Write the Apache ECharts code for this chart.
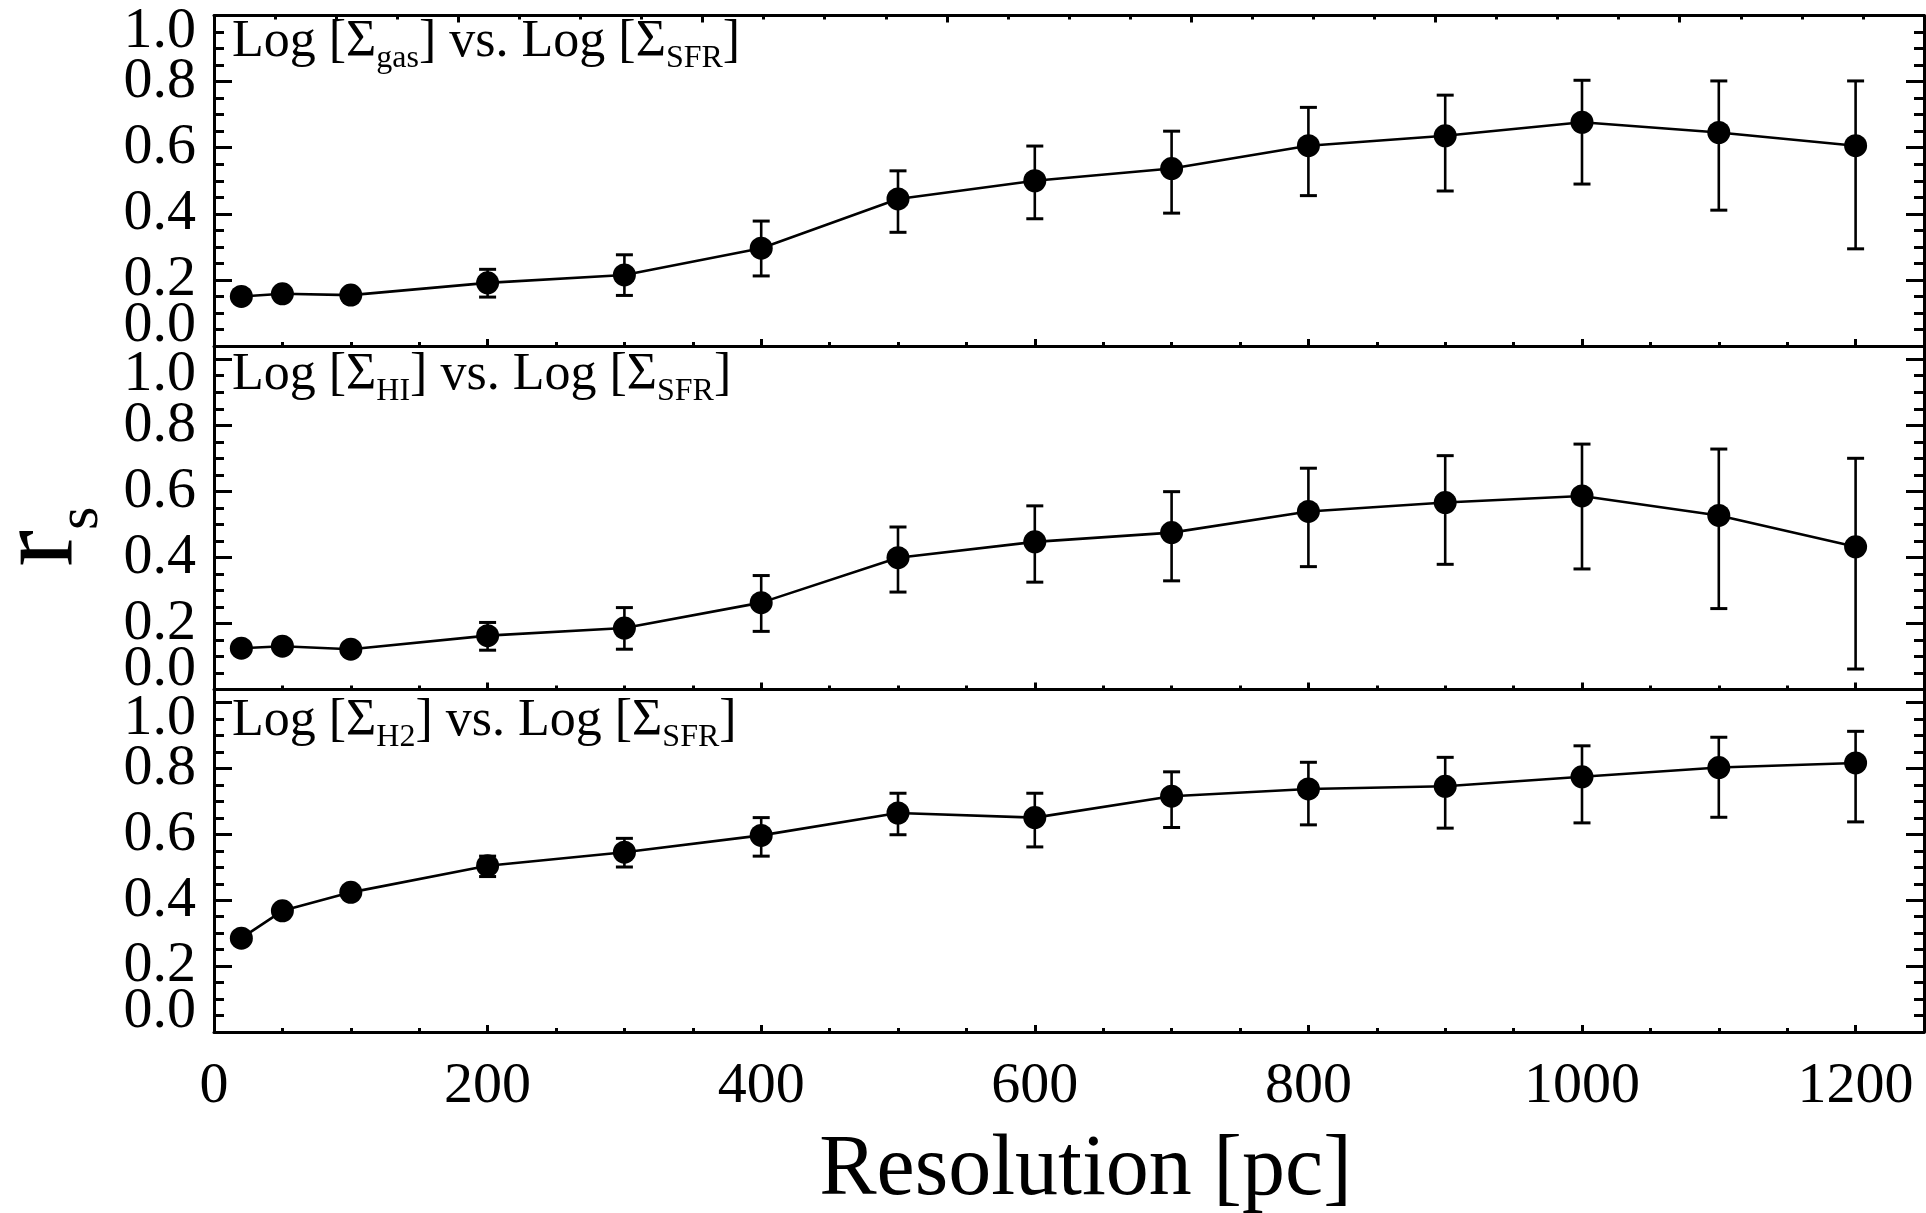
<!DOCTYPE html>
<html>
<head>
<meta charset="utf-8">
<script src="https://cdn.jsdelivr.net/npm/echarts@6/dist/echarts.min.js"></script>
<style>
  html, body { margin: 0; padding: 0; background: #ffffff; }
  #chart { width: 1926px; height: 1213px; }
</style>
</head>
<body>
<div id="chart"></div>
<script>
// Spatial resolution of the maps, in parsec
const resolution = [20, 50, 100, 200, 300, 400, 500, 600, 700, 800, 900, 1000, 1100, 1200];

// Spearman rank coefficient r_s and its error range: total gas vs. SFR
const rsGas   = [0.150, 0.158, 0.154, 0.191, 0.215, 0.296, 0.445, 0.500, 0.537, 0.606, 0.636, 0.677, 0.646, 0.606];
const gasLow  = [null, null, null, 0.148, 0.153, 0.212, 0.344, 0.385, 0.402, 0.455, 0.469, 0.490, 0.411, 0.294];
const gasHigh = [null, null, null, 0.232, 0.276, 0.378, 0.530, 0.605, 0.650, 0.722, 0.759, 0.804, 0.802, 0.802];

// atomic gas vs. SFR
const rsHI    = [0.125, 0.131, 0.122, 0.163, 0.186, 0.263, 0.399, 0.447, 0.475, 0.539, 0.566, 0.586, 0.527, 0.432];
const hiLow   = [null, null, null, 0.119, 0.122, 0.176, 0.295, 0.325, 0.329, 0.372, 0.379, 0.365, 0.245, 0.062];
const hiHigh  = [null, null, null, 0.203, 0.248, 0.345, 0.492, 0.556, 0.599, 0.670, 0.708, 0.743, 0.728, 0.700];

// molecular gas vs. SFR
const rsH2    = [0.285, 0.368, 0.424, 0.505, 0.546, 0.597, 0.665, 0.651, 0.716, 0.738, 0.746, 0.775, 0.803, 0.817];
const h2Low   = [null, null, null, 0.472, 0.501, 0.534, 0.599, 0.562, 0.621, 0.629, 0.619, 0.635, 0.652, 0.638];
const h2High  = [null, null, null, 0.534, 0.588, 0.651, 0.725, 0.725, 0.790, 0.819, 0.834, 0.869, 0.895, 0.913];

// Panel subscripts (gas component) and the shared SFR subscript
const gasComponents = ['gas', 'HI', 'H2'];
const sfrSubscript = 'SFR';

// Axis ranges and tick steps
const xMax = 1250;          // resolution axis
const xTopMax = 1400;       // upper frame axis of the first panel
const xMajorStep = 200;
const xMinorStep = 50;
const yMaxima = [1.0, 1.04, 1.04];
const yMajorStep = 0.2;
const yMinorStep = 0.05;
const yTickLabels = ['0.0', '0.2', '0.4', '0.6', '0.8', '1.0'];

const xTitle = 'Resolution [pc]';

// ---------------------------------------------------------------------------
const FONT = '"Liberation Serif", "Times New Roman", Times, serif';
const INK = '#000000';

const layout = [
  { top: 15.5,  height: 330.5, titleTop: 16.5 },
  { top: 346,   height: 343.5, titleTop: 349.8 },
  { top: 689.5, height: 342.5, titleTop: 695.8 }
];
const seriesSets = [
  { rs: rsGas, lo: gasLow, hi: gasHigh },
  { rs: rsHI,  lo: hiLow,  hi: hiHigh },
  { rs: rsH2,  lo: h2Low,  hi: h2High }
];

function tickStyle(len, show) {
  return { show: show, inside: true, length: len, lineStyle: { color: INK, width: 3 } };
}
function lineStyle(show) {
  return { show: show, onZero: false, lineStyle: { color: INK, width: 3 } };
}

function xLabelFormatter(v) {
  return (Math.abs(v % xMajorStep) < 1e-6 && v <= 1200) ? String(v) : '';
}
function majorIndex(v) {
  const k = Math.round(v / yMajorStep);
  if (Math.abs(v - k * yMajorStep) > 1e-6 || k < 0 || k >= yTickLabels.length) return -1;
  return k;
}
// inner labels of the r_s axis
function yInnerLabel(v) {
  const k = majorIndex(v);
  return (k > 0 && k < yTickLabels.length - 1) ? yTickLabels[k] : '';
}
// end labels are pulled inside the frame so stacked panels do not collide
function yEndLabel(v) {
  const k = majorIndex(v);
  if (k === 0) return '{lo|' + yTickLabels[0] + '}';
  if (k === yTickLabels.length - 1) return '{hi|' + yTickLabels[k] + '}';
  return '';
}

const labelFont = { fontSize: 58, fontFamily: FONT, fontWeight: 'normal', color: INK };

function renderErrorBar(params, api) {
  const x = api.value(0);
  const top = api.coord([x, api.value(2)]);
  const bot = api.coord([x, api.value(1)]);
  const half = 8.5;
  const stem = { stroke: INK, lineWidth: 2.6 };
  const cap = { stroke: INK, lineWidth: 3 };
  return {
    type: 'group',
    children: [
      { type: 'line', shape: { x1: top[0], y1: top[1], x2: bot[0], y2: bot[1] }, style: stem },
      { type: 'line', shape: { x1: top[0] - half, y1: top[1], x2: top[0] + half, y2: top[1] }, style: cap },
      { type: 'line', shape: { x1: bot[0] - half, y1: bot[1], x2: bot[0] + half, y2: bot[1] }, style: cap }
    ]
  };
}

const grids = [], xAxes = [], yAxes = [], series = [], titles = [];

layout.forEach(function (L, i) {
  const isLast = i === layout.length - 1;
  const yMax = yMaxima[i];
  grids.push({ left: 214, width: 1710, top: L.top, height: L.height,
               containLabel: false, outerBoundsMode: 'none' });

  // bottom resolution axis: major ticks + labels, then minor ticks
  const xMain = xAxes.length;
  xAxes.push({
    type: 'value', gridIndex: i, position: 'bottom', min: 0, max: xMax, interval: xMajorStep,
    axisLine: lineStyle(true), axisTick: tickStyle(7, true), splitLine: { show: false },
    axisLabel: Object.assign({ show: isLast, margin: 26, formatter: xLabelFormatter,
                               showMinLabel: true, hideOverlap: false }, labelFont),
    name: isLast ? xTitle : '', nameLocation: 'middle', nameGap: 96,
    nameTextStyle: { fontSize: 86, fontFamily: FONT, fontWeight: 'normal', color: INK, padding: [0, 0, 0, 33] }
  });
  xAxes.push({
    type: 'value', gridIndex: i, position: 'bottom', min: 0, max: xMax, interval: xMinorStep,
    axisLine: lineStyle(false), axisTick: tickStyle(4, true), splitLine: { show: false },
    axisLabel: { show: false }
  });
  if (i === 0) {
    // upper frame of the first panel
    xAxes.push({
      type: 'value', gridIndex: i, position: 'top', min: 0, max: xTopMax, interval: xMajorStep,
      axisLine: lineStyle(true), axisTick: tickStyle(7, true), splitLine: { show: false },
      axisLabel: { show: false }
    });
    xAxes.push({
      type: 'value', gridIndex: i, position: 'top', min: 0, max: xTopMax, interval: xMinorStep,
      axisLine: lineStyle(false), axisTick: tickStyle(4, true), splitLine: { show: false },
      axisLabel: { show: false }
    });
  }

  const yMain = yAxes.length;
  yAxes.push({
    type: 'value', gridIndex: i, position: 'left', min: 0, max: yMax, interval: yMajorStep,
    axisLine: lineStyle(true), axisTick: tickStyle(18, true), splitLine: { show: false },
    axisLabel: Object.assign({ show: true, margin: 18, formatter: yInnerLabel,
                               showMinLabel: true, showMaxLabel: true, hideOverlap: false }, labelFont),
    name: i === 1 ? '{r|r}{s|s}' : '', nameLocation: 'middle', nameGap: 103, nameRotate: 90,
    nameTextStyle: {
      color: INK, fontFamily: FONT, fontWeight: 'normal',
      rich: {
        r: { fontSize: 110, fontFamily: FONT, fontWeight: 'normal', color: INK, verticalAlign: 'bottom', padding: [0, 0, 14, 0] },
        s: { fontSize: 60, fontFamily: FONT, fontWeight: 'normal', color: INK, verticalAlign: 'bottom', padding: [0, 38, 0, 0] }
      }
    }
  });
  yAxes.push({
    type: 'value', gridIndex: i, position: 'left', min: 0, max: yMax, interval: yMinorStep,
    axisLine: lineStyle(false), axisTick: tickStyle(10, true), splitLine: { show: false },
    axisLabel: Object.assign({
      show: true, margin: 18, formatter: yEndLabel,
      showMinLabel: true, showMaxLabel: true, hideOverlap: false,
      rich: {
        hi: Object.assign({ padding: [32, 0, 0, 0] }, labelFont),
        lo: Object.assign({ padding: [0, 0, 40, 0] }, labelFont)
      }
    }, labelFont)
  });
  yAxes.push({
    type: 'value', gridIndex: i, position: 'right', min: 0, max: yMax, interval: yMajorStep,
    axisLine: lineStyle(true), axisTick: tickStyle(18, true), splitLine: { show: false },
    axisLabel: { show: false }
  });
  yAxes.push({
    type: 'value', gridIndex: i, position: 'right', min: 0, max: yMax, interval: yMinorStep,
    axisLine: lineStyle(false), axisTick: tickStyle(10, true), splitLine: { show: false },
    axisLabel: { show: false }
  });

  const set = seriesSets[i];
  series.push({
    type: 'custom', xAxisIndex: xMain, yAxisIndex: yMain, silent: true, z: 2,
    renderItem: renderErrorBar,
    encode: { x: 0, y: [1, 2] },
    data: resolution.map(function (x, k) { return [x, set.lo[k], set.hi[k]]; })
                    .filter(function (d) { return d[1] != null; })
  });
  series.push({
    type: 'line', xAxisIndex: xMain, yAxisIndex: yMain, z: 3, silent: true,
    symbol: 'circle', symbolSize: 23,
    itemStyle: { color: INK },
    lineStyle: { color: INK, width: 2.6 },
    data: resolution.map(function (x, k) { return [x, set.rs[k]]; })
  });

  titles.push({
    left: 232, top: L.titleTop, padding: 0,
    text: '{m|Log [Σ}{s|' + gasComponents[i] + '}{m|] vs. Log [Σ}{s|' + sfrSubscript + '}{m|]}',
    textStyle: {
      fontFamily: FONT, fontWeight: 'normal', color: INK,
      rich: {
        m: { fontSize: 52, fontFamily: FONT, fontWeight: 'normal', color: INK, verticalAlign: 'bottom', padding: [0, 0, 6, 0] },
        s: { fontSize: 32, fontFamily: FONT, fontWeight: 'normal', color: INK, verticalAlign: 'bottom' }
      }
    }
  });
});

const chart = echarts.init(document.getElementById('chart'), null, { renderer: 'canvas' });
chart.setOption({
  animation: false,
  backgroundColor: '#ffffff',
  title: titles,
  grid: grids,
  xAxis: xAxes,
  yAxis: yAxes,
  series: series
});
</script>
</body>
</html>
